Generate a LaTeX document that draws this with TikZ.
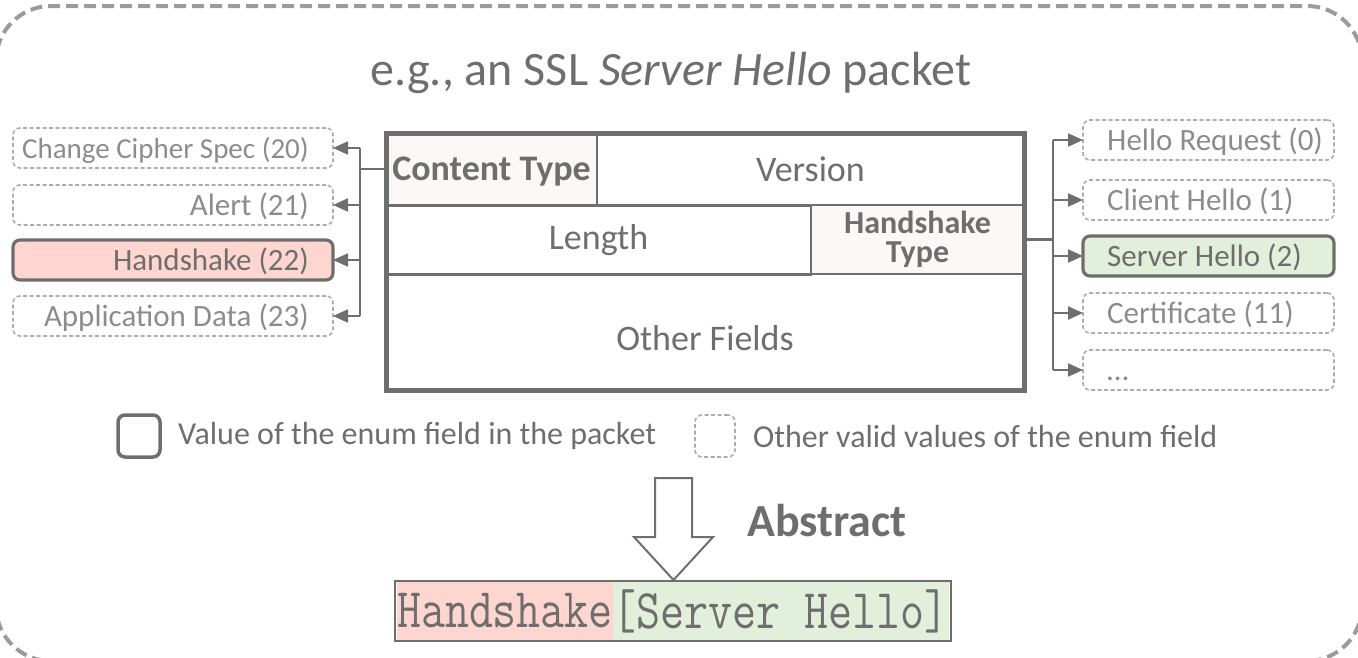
\documentclass[tikz,border=0pt]{standalone}
\usepackage{fontspec}
\setmainfont{Carlito}
\usetikzlibrary{arrows.meta}

\definecolor{ink}{RGB}{110,110,110}
\definecolor{faint}{RGB}{140,140,140}
\definecolor{dashgray}{RGB}{172,172,172}
\definecolor{framegray}{RGB}{155,155,155}
\definecolor{pinkfill}{RGB}{255,213,207}
\definecolor{greenfill}{RGB}{226,239,218}
\definecolor{cellfill}{RGB}{251,248,245}

\tikzset{
  cell/.style={draw=ink, line width=2.5pt, inner sep=0pt, outer sep=0pt,
    text=ink, font=\fontsize{36}{40}\selectfont},
  keycell/.style={cell, fill=cellfill, font=\fontsize{36}{29}\selectfont\bfseries, align=center},
  optbox/.style={rounded corners=7pt, minimum height=40pt, inner sep=0pt, outer sep=0pt},
  otherval/.style={optbox, draw=dashgray, line width=1.6pt, dash pattern=on 4pt off 2.5pt},
  chosenval/.style={optbox, draw=ink, line width=3.2pt},
  opttext/.style={font=\fontsize{31}{36}\selectfont, inner sep=0pt},
  conn/.style={draw=ink, line width=2.2pt},
  conntip/.style={conn, -{Triangle[length=15pt, width=13pt]}},
  monotext/.style={text=ink, inner sep=0pt, outer sep=0pt, minimum height=60pt,
    font=\fontsize{46.6}{50}\ttfamily},
}

\begin{document}
\begin{tikzpicture}[x=1pt, y=-1pt]
\useasboundingbox (0,0) rectangle (1358,657);

% outer dashed frame
\draw[framegray, line width=4pt, dash pattern=on 12pt off 6pt, rounded corners=55pt]
  (-4,6) rectangle (1362,661);

% title
\node[text=ink, font=\fontsize{48}{52}\selectfont, anchor=base, inner sep=0pt] (title)
  at (671,85) {e.g., an SSL \textit{Server Hello} packet};

% packet layout
\node[keycell, minimum width=211pt, minimum height=72pt] (ct) at (491.5,169) {\raisebox{-11.5pt}[0.5em][0.5em]{Content Type}};
\node[cell, minimum width=427pt, minimum height=72pt] (ver) at (810.5,169) {Version};
\node[cell, minimum width=425pt, minimum height=69pt] (len) at (598.5,240) {Length};
\node[keycell, minimum width=213pt, minimum height=69pt, font=\fontsize{32}{29}\selectfont\bfseries] (hst) at (917.5,239.5) {Handshake\\Type};
\node[cell, minimum width=638pt, minimum height=116pt] (oth) at (705,332) {};
\node[text=ink, font=\fontsize{36}{40}\selectfont, inner sep=0pt] (othtxt) at ([yshift=-6pt]oth.center) {Other Fields};
\draw[ink, line width=5pt] (ct.north west) rectangle (oth.south east);

% content type values
\node[otherval, minimum width=320pt] (l1) at (173,148) {};
\node[otherval, minimum width=320pt] (l2) at (173,205) {};
\node[chosenval, minimum width=320pt, fill=pinkfill] (l3) at (173,260) {};
\node[otherval, minimum width=320pt] (l4) at (173,316) {};
\node[opttext, text=faint, anchor=base east, font=\fontsize{29}{34}\selectfont] at ([xshift=-24pt, yshift=-10pt]l1.center -| l1.east) {Change Cipher Spec (20)};
\node[opttext, text=faint, anchor=base east] at ([xshift=-24pt, yshift=-10pt]l2.center -| l2.east) {Alert (21)};
\node[opttext, text=ink, anchor=base east] at ([xshift=-24pt, yshift=-10pt]l3.center -| l3.east) {Handshake (22)};
\node[opttext, text=faint, anchor=base east] at ([xshift=-24pt, yshift=-10pt]l4.center -| l4.east) {Application Data (23)};

% handshake type values
\node[otherval, minimum width=251pt] (r1) at (1208.5,140) {};
\node[otherval, minimum width=251pt] (r2) at (1208.5,200) {};
\node[chosenval, minimum width=251pt, fill=greenfill] (r3) at (1208.5,256) {};
\node[otherval, minimum width=251pt] (r4) at (1208.5,313) {};
\node[otherval, minimum width=251pt] (r5) at (1208.5,370) {};
\node[opttext, text=faint, anchor=base west] at ([xshift=24pt, yshift=-10pt]r1.center -| r1.west) {Hello Request (0)};
\node[opttext, text=faint, anchor=base west] at ([xshift=24pt, yshift=-10pt]r2.center -| r2.west) {Client Hello (1)};
\node[opttext, text=ink, anchor=base west] at ([xshift=24pt, yshift=-10pt]r3.center -| r3.west) {Server Hello (2)};
\node[opttext, text=faint, anchor=base west] at ([xshift=24pt, yshift=-10pt]r4.center -| r4.west) {Certificate (11)};
\node[opttext, text=faint, anchor=base west] at ([xshift=24pt, yshift=-10pt]r5.center -| r5.west) {\ldots};

% connectors: content type
\draw[conn] (ct.west) -- ++(-26,0) coordinate (lbus);
\draw[conn] (lbus |- l1.east) -- (lbus |- l4.east);
\foreach \n in {l1,l2,l3,l4} \draw[conntip] (lbus |- \n.east) -- (\n.east);

% connectors: handshake type
\draw[conn] (hst.east) -- ++(29,0) coordinate (rbus);
\draw[conn] (rbus |- r1.west) -- (rbus |- r5.west);
\foreach \n in {r1,r2,r3,r4,r5} \draw[conntip] (rbus |- \n.west) -- (\n.west);

% legend
\node[chosenval, minimum width=42pt, minimum height=42pt, line width=3.5pt] (lgA) at (139,436) {};
\node[opttext, text=ink, anchor=west, font=\fontsize{32}{36}\selectfont] (lgAt) at (178,436) {Value of the enum field in the packet};
\node[otherval, minimum width=40pt, minimum height=42pt] (lgB) at (715,436) {};
\node[opttext, text=ink, anchor=west, font=\fontsize{32}{36}\selectfont] (lgBt) at (753,436) {Other valid values of the enum field};

% abstraction arrow
\draw[ink, line width=2pt, fill=white, line join=miter]
  (655,478) -- (692,478) -- (692,537) -- (713,537) -- (673.5,580) -- (634,537) -- (655,537) -- cycle;
\node[text=ink, font=\fontsize{46}{50}\selectfont\bfseries, anchor=base west, inner sep=0pt] (abs)
  at (747,536) {Abstract};

% abstract form
\node[monotext, fill=pinkfill, anchor=west] (absA) at (397,611) {\scalebox{1}[1.2]{Handshake}};
\node[monotext, fill=greenfill, anchor=west] (absB) at (absA.east) {\scalebox{1}[1.2]{[Server Hello]}};
\draw[ink, line width=2pt] ([xshift=-2pt]absA.north west) rectangle ([xshift=2pt]absB.south east);
\end{tikzpicture}
\end{document}
